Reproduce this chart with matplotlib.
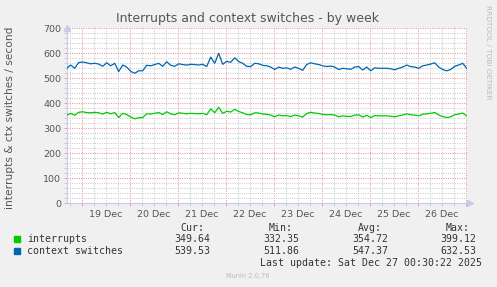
import numpy as np
import pandas as pd
import matplotlib
matplotlib.use('Agg')
import matplotlib.pyplot as plt
import matplotlib.dates as mdates
from matplotlib.ticker import MultipleLocator, FuncFormatter

# Samples every 2 hours
times = pd.date_range('2025-12-18 16:30', periods=101, freq='2h')

ctx_switches = [540, 553, 540, 563, 565, 562, 558, 560, 557, 548,
                562, 550, 560, 527, 553, 545, 528, 520, 530, 530,
                552, 550, 555, 560, 548, 566, 552, 548, 558, 555,
                553, 556, 555, 553, 556, 547, 585, 560, 600, 556,
                568, 564, 582, 567, 560, 548, 547, 560, 558, 552,
                550, 545, 535, 545, 540, 542, 536, 545, 540, 532,
                555, 562, 558, 555, 550, 547, 549, 545, 535, 540,
                538, 536, 545, 547, 533, 545, 530, 542, 540, 540,
                540, 538, 534, 540, 545, 553, 547, 545, 540, 550,
                553, 557, 562, 545, 535, 530, 535, 548, 553, 560,
                540]

interrupts = [352, 360, 352, 364, 366, 363, 362, 364, 362, 357,
              364, 358, 363, 343, 360, 355, 345, 338, 342, 343,
              358, 357, 360, 363, 355, 366, 358, 354, 362, 360,
              358, 360, 359, 358, 360, 354, 378, 362, 384, 360,
              368, 365, 376, 367, 362, 355, 354, 362, 361, 357,
              356, 353, 346, 353, 350, 351, 347, 353, 350, 345,
              359, 364, 361, 359, 356, 354, 355, 353, 346, 350,
              348, 347, 353, 354, 345, 352, 343, 351, 350, 350,
              350, 348, 346, 350, 353, 358, 354, 353, 350, 356,
              358, 360, 363, 353, 347, 343, 346, 354, 357, 361,
              350]

series_names = ['interrupts', 'context switches']
series_colors = ['#00CC00', '#0066B3']
cur_vals = ['349.64', '539.53']
min_vals = ['332.35', '511.86']
avg_vals = ['354.72', '547.37']
max_vals = ['399.12', '632.53']

W, H = 497, 287
fig = plt.figure(figsize=(W / 100, H / 100), dpi=100, facecolor='#F0F0F0')
ax = fig.add_axes([66.7 / W, 1 - 203.3 / H, 400 / W, 175 / H])
ax.set_facecolor('white')

ax.plot(times, interrupts, color=series_colors[0], lw=0.9, zorder=3)
ax.plot(times, ctx_switches, color=series_colors[1], lw=0.9, zorder=3)

ax.set_xlim(times[0], times[-1])
ax.set_ylim(0, 700)

# grid: red dotted at days / 100, grey dotted at 6h / 20
ax.xaxis.set_major_locator(mdates.DayLocator())
ax.xaxis.set_minor_locator(mdates.HourLocator(byhour=[0, 6, 12, 18]))
ax.xaxis.set_major_formatter(FuncFormatter(lambda v, p: ''))


def noon_label(v, pos):
    d = mdates.num2date(v)
    return d.strftime('%d %b') if d.hour == 12 else ''


ax.xaxis.set_minor_formatter(FuncFormatter(noon_label))
ax.yaxis.set_major_locator(MultipleLocator(100))
ax.yaxis.set_minor_locator(MultipleLocator(20))

ax.grid(which='major', color='#EE9999', linestyle=(0, (1, 1.2)), lw=0.75)
ax.grid(which='minor', color='#CCCCCC', linestyle=(0, (1, 1.2)), lw=0.75)
ax.set_axisbelow(True)

ax.tick_params(which='major', length=2, width=0.7, color='#EE9999',
               labelsize=6.8, labelcolor='#555555', pad=2)
ax.tick_params(which='minor', length=2, width=0.7, color='#CCCCCC',
               labelsize=6.8, labelcolor='#555555', pad=3)

for s in ['top', 'right']:
    ax.spines[s].set_visible(False)
for s in ['left', 'bottom']:
    ax.spines[s].set_color('#C8C8F0')
    ax.spines[s].set_linewidth(0.8)

# axis arrows
ax.plot([0], [1.0], marker='^', ms=5, color='#C8C8F0', transform=ax.transAxes,
        clip_on=False, zorder=5)
ax.plot([1.008], [0], marker='>', ms=5, color='#C8C8F0', transform=ax.transAxes,
        clip_on=False, zorder=5)

fig.text(248 / W, 1 - 22 / H, 'Interrupts and context switches - by week',
         ha='center', va='baseline', fontsize=9, color='#555555')
fig.text(10 / W, 1 - 118 / H, 'interrupts & ctx switches / second',
         ha='center', va='center', rotation=90, fontsize=7.7, color='#555555')
fig.text(488 / W, 1 - 5 / H, 'RRDTOOL / TOBI OETIKER', ha='center', va='top',
         rotation=270, fontsize=5.3, color='#BBBBBB')

# legend table
mono = 'DejaVu Sans Mono'
col_x = [192, 281, 370, 458]
headers = ['Cur:', 'Min:', 'Avg:', 'Max:']
for x, h in zip(col_x, headers):
    fig.text(x / W, 1 - 231 / H, h, ha='center', va='baseline',
             fontsize=7.1, family=mono, color='#333333')

row_y = [242.3, 254]
for i, name in enumerate(series_names):
    y = row_y[i]
    fig.patches.append(plt.Rectangle((14 / W, 1 - (y - 0.5) / H), 6 / W, 6 / H,
                                     transform=fig.transFigure,
                                     color=series_colors[i]))
    fig.text(27 / W, 1 - y / H, name, ha='left', va='baseline',
             fontsize=7.1, family=mono, color='#333333')
    vals = [cur_vals[i], min_vals[i], avg_vals[i], max_vals[i]]
    for x, v in zip(col_x, vals):
        fig.text(x / W, 1 - y / H, v, ha='center', va='baseline',
                 fontsize=7.1, family=mono, color='#333333')

fig.text(482 / W, 1 - 266 / H, 'Last update: Sat Dec 27 00:30:22 2025',
         ha='right', va='baseline', fontsize=7.1, family=mono, color='#333333')
fig.text(248 / W, 1 - 276 / H, 'Munin 2.0.76', ha='center', va='center',
         fontsize=4.8, color='#BBBBBB')

fig.savefig('out.png', dpi=100, facecolor=fig.get_facecolor())
